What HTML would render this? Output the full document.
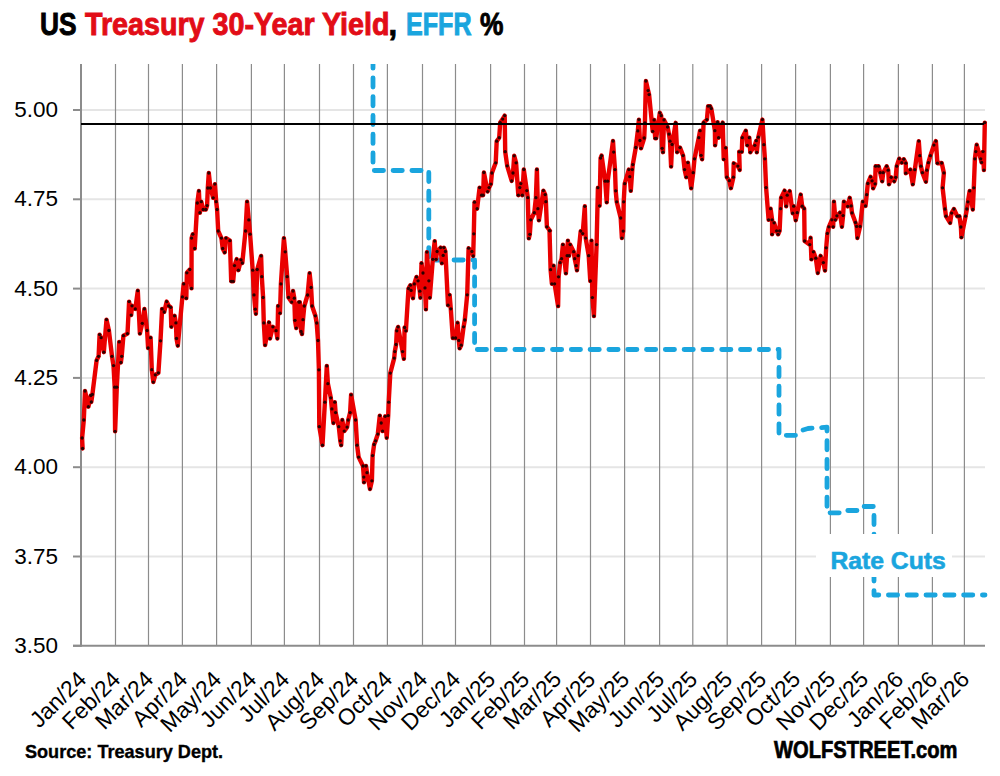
<!DOCTYPE html>
<html><head><meta charset="utf-8"><style>
html,body{margin:0;padding:0;background:#fff;}
body{width:1000px;height:776px;position:relative;overflow:hidden;font-family:"Liberation Sans",sans-serif;}
svg{position:absolute;left:0;top:0;}
.t{position:absolute;white-space:nowrap;font-weight:bold;}
.tt{top:6.5px;font-size:31px;line-height:36px;transform-origin:0 50%;-webkit-text-stroke:0.9px currentColor;}
.yl{position:absolute;left:0;width:58px;text-align:right;font-size:22.5px;line-height:26px;color:#000;}
.xl{position:absolute;top:662px;width:200px;text-align:right;font-size:22.8px;line-height:26px;transform-origin:100% 50%;transform:rotate(-45deg);color:#000;}
</style></head><body>
<svg width="1000" height="776" viewBox="0 0 1000 776">
<g stroke="#e5e5e5" stroke-width="2">
<line x1="81" y1="110.0" x2="985" y2="110.0"/>
<line x1="81" y1="199.3" x2="985" y2="199.3"/>
<line x1="81" y1="288.6" x2="985" y2="288.6"/>
<line x1="81" y1="377.9" x2="985" y2="377.9"/>
<line x1="81" y1="467.2" x2="985" y2="467.2"/>
<line x1="81" y1="556.5" x2="985" y2="556.5"/>
</g>
<g stroke="#8c8c8c" stroke-width="1.2">
<line x1="115.5" y1="64" x2="115.5" y2="645.8"/>
<line x1="148.5" y1="64" x2="148.5" y2="645.8"/>
<line x1="182.4" y1="64" x2="182.4" y2="645.8"/>
<line x1="216.6" y1="64" x2="216.6" y2="645.8"/>
<line x1="251.4" y1="64" x2="251.4" y2="645.8"/>
<line x1="284.4" y1="64" x2="284.4" y2="645.8"/>
<line x1="319.5" y1="64" x2="319.5" y2="645.8"/>
<line x1="353.5" y1="64" x2="353.5" y2="645.8"/>
<line x1="387.4" y1="64" x2="387.4" y2="645.8"/>
<line x1="422.5" y1="64" x2="422.5" y2="645.8"/>
<line x1="455.5" y1="64" x2="455.5" y2="645.8"/>
<line x1="490.6" y1="64" x2="490.6" y2="645.8"/>
<line x1="524.5" y1="64" x2="524.5" y2="645.8"/>
<line x1="556.6" y1="64" x2="556.6" y2="645.8"/>
<line x1="590.5" y1="64" x2="590.5" y2="645.8"/>
<line x1="624.6" y1="64" x2="624.6" y2="645.8"/>
<line x1="659.6" y1="64" x2="659.6" y2="645.8"/>
<line x1="692.8" y1="64" x2="692.8" y2="645.8"/>
<line x1="727.2" y1="64" x2="727.2" y2="645.8"/>
<line x1="761.6" y1="64" x2="761.6" y2="645.8"/>
<line x1="795.6" y1="64" x2="795.6" y2="645.8"/>
<line x1="830.4" y1="64" x2="830.4" y2="645.8"/>
<line x1="863.6" y1="64" x2="863.6" y2="645.8"/>
<line x1="898.4" y1="64" x2="898.4" y2="645.8"/>
<line x1="932.4" y1="64" x2="932.4" y2="645.8"/>
<line x1="964.4" y1="64" x2="964.4" y2="645.8"/>
</g>
<g stroke="#8c8c8c" stroke-width="2">
<line x1="73" y1="110.0" x2="81" y2="110.0"/>
<line x1="73" y1="199.3" x2="81" y2="199.3"/>
<line x1="73" y1="288.6" x2="81" y2="288.6"/>
<line x1="73" y1="377.9" x2="81" y2="377.9"/>
<line x1="73" y1="467.2" x2="81" y2="467.2"/>
<line x1="73" y1="556.5" x2="81" y2="556.5"/>
<line x1="73" y1="645.8" x2="81" y2="645.8"/>
<line x1="81" y1="64" x2="81" y2="646.8"/>
<line x1="73" y1="645.8" x2="985" y2="645.8"/>
</g>
<defs><clipPath id="cp"><rect x="81" y="64" width="910" height="582"/></clipPath></defs>
<g id="effr" clip-path="url(#cp)" fill="none" stroke="#1aa5de" stroke-width="4.8" stroke-dasharray="9.2 9.6" stroke-dashoffset="5.0" stroke-linecap="round" stroke-linejoin="round">
<path d="M373,64 V170.5 H428.8 V260 H474.6 V349.5 H779 V435.3 H797 L803,430 L808,428.5 L827,427.2 V512.8 H843 L845,510.5 H859 L861,506.5 H874 V595 H985"/>
</g>
<g id="red"><path d="M82.6,448.5 L82.1,438.0 L83.8,420.0 L85.0,391.0 L88.4,406.7 L90.8,395.5 L91.3,402.0 L92.4,394.4 L96.6,360.4 L98.6,356.3 L99.6,334.6 L101.1,337.7 L103.8,352.2 L106.5,319.6 L108.9,330.5 L112.0,356.3 L113.5,365.6 L114.7,387.2 L115.1,431.3 L116.8,387.2 L119.2,341.9 L120.9,362.5 L121.7,356.3 L123.4,335.7 L127.5,333.6 L129.1,301.6 L131.2,315.1 L132.0,305.8 L135.3,308.9 L137.8,290.7 L139.9,333.6 L142.3,323.3 L144.4,308.9 L147.1,330.5 L148.1,348.0 L150.6,337.7 L151.8,369.7 L153.3,382.1 L155.3,374.8 L158.4,372.8 L160.5,340.8 L162.1,308.9 L164.2,312.0 L166.7,301.6 L168.7,305.8 L170.7,307.3 L171.3,326.8 L174.6,315.8 L175.9,322.9 L176.5,338.5 L177.8,345.7 L182.4,296.9 L183.7,283.9 L186.3,298.2 L186.9,272.8 L189.8,269.5 L191.5,288.4 L191.6,238.1 L192.8,234.2 L194.7,248.5 L197.3,203.0 L198.9,191.0 L199.9,212.7 L201.3,201.7 L203.2,209.5 L205.8,209.5 L207.1,205.6 L207.8,188.0 L208.8,173.0 L210.4,188.0 L213.2,197.8 L214.9,184.1 L216.2,201.7 L217.1,209.5 L218.2,231.0 L221.4,238.1 L222.7,248.5 L224.7,252.4 L226.0,238.1 L229.9,240.7 L231.2,281.3 L233.2,281.3 L234.5,265.6 L236.7,259.1 L238.4,270.2 L241.0,259.8 L242.3,263.0 L245.5,231.0 L247.1,201.7 L248.8,219.9 L250.1,234.2 L252.7,270.2 L254.0,294.9 L255.3,309.2 L255.9,313.8 L257.2,269.5 L261.1,255.9 L261.8,276.7 L263.1,297.5 L263.8,322.9 L265.1,345.1 L269.0,322.3 L270.0,338.5 L272.9,326.8 L276.1,330.7 L277.4,338.5 L278.1,306.0 L280.0,313.2 L280.9,283.9 L283.9,238.1 L285.2,251.8 L287.2,276.7 L288.5,297.5 L291.7,302.1 L293.0,291.0 L294.3,298.2 L295.0,320.3 L296.3,328.1 L298.9,302.1 L299.8,302.1 L301.1,331.4 L302.0,334.0 L303.0,319.7 L304.3,306.0 L307.6,295.0 L309.6,273.1 L311.1,287.5 L312.1,306.0 L315.4,315.8 L316.7,323.0 L318.0,340.5 L318.9,369.8 L319.3,426.7 L322.5,445.2 L324.9,402.2 L326.8,365.9 L327.9,383.7 L330.8,397.8 L331.9,408.9 L333.4,423.0 L334.8,402.2 L335.6,412.6 L338.8,426.7 L340.3,440.8 L341.2,445.2 L342.3,420.0 L344.2,431.1 L347.1,427.1 L348.2,420.0 L350.1,412.6 L351.1,394.8 L355.6,420.0 L357.1,445.2 L358.6,457.1 L363.0,466.0 L363.8,477.1 L364.0,482.3 L366.0,466.0 L367.0,472.7 L370.0,489.0 L371.9,480.8 L372.6,455.6 L374.1,444.5 L375.6,440.8 L377.8,434.1 L379.8,415.6 L381.2,423.0 L382.6,431.1 L385.2,416.3 L386.7,437.8 L388.2,415.6 L388.7,402.2 L390.3,373.1 L394.2,358.1 L394.8,351.6 L396.1,344.5 L396.8,330.8 L398.1,326.9 L402.6,351.6 L403.9,358.8 L404.6,327.5 L405.9,330.8 L408.5,288.5 L410.4,285.2 L411.1,290.4 L413.0,298.2 L414.3,283.9 L416.5,276.9 L418.1,280.8 L419.8,291.2 L420.4,297.7 L421.5,263.2 L423.0,273.0 L425.0,287.9 L425.9,309.4 L426.9,252.1 L428.9,280.8 L429.8,297.7 L432.8,259.3 L434.7,241.1 L436.0,259.3 L437.1,251.5 L440.6,247.6 L441.9,263.2 L443.2,255.4 L443.9,247.6 L445.4,251.5 L448.0,305.2 L449.6,294.8 L450.8,308.8 L452.8,338.0 L455.6,338.0 L457.6,322.8 L458.8,340.4 L459.6,348.4 L461.2,345.2 L463.6,326.8 L464.8,320.0 L467.2,294.8 L468.6,248.2 L471.9,251.5 L473.2,256.0 L473.8,233.8 L474.5,202.2 L477.1,208.7 L479.6,187.6 L481.6,195.2 L483.1,195.2 L483.9,172.5 L487.6,191.6 L489.1,187.6 L490.9,184.1 L491.9,173.0 L495.7,162.8 L496.7,141.2 L499.2,137.7 L500.2,122.6 L502.7,119.1 L504.7,115.6 L505.2,151.7 L507.2,165.8 L511.7,181.0 L513.0,173.0 L514.2,155.8 L516.1,162.8 L518.3,195.2 L519.8,187.6 L520.8,183.6 L522.3,195.2 L523.8,169.5 L526.8,190.6 L527.8,197.7 L528.8,238.4 L529.8,234.3 L530.8,219.8 L534.3,212.7 L535.9,197.7 L536.9,169.5 L537.9,208.7 L538.9,220.3 L543.4,190.6 L545.2,194.6 L545.9,201.7 L546.9,226.8 L549.9,230.8 L549.5,230.6 L550.6,269.7 L551.9,283.8 L553.6,265.7 L554.6,283.8 L558.1,306.1 L558.6,276.8 L560.1,262.7 L561.6,258.7 L562.9,244.6 L565.9,273.3 L567.1,255.7 L567.9,240.6 L569.1,255.7 L570.2,244.6 L573.7,251.7 L574.7,258.7 L576.2,265.7 L577.0,270.3 L578.2,255.7 L580.7,231.1 L582.7,233.6 L584.8,206.3 L585.7,238.1 L588.7,255.7 L590.3,281.0 L591.5,240.6 L592.4,297.6 L593.9,316.1 L596.6,244.6 L597.9,187.7 L599.6,205.8 L600.6,158.1 L601.6,155.6 L605.2,181.2 L606.7,202.3 L607.7,181.2 L613.0,141.0 L613.7,152.1 L615.0,169.6 L615.7,190.8 L616.7,201.8 L620.7,218.0 L621.9,238.1 L623.2,231.1 L623.7,201.8 L624.7,183.7 L628.8,169.6 L629.8,176.7 L630.8,190.8 L632.3,169.6 L632.8,164.6 L635.8,147.5 L637.8,130.9 L638.9,119.6 L639.9,140.5 L641.0,148.3 L644.2,138.0 L644.9,122.8 L645.9,81.0 L648.1,90.6 L649.1,94.6 L652.7,131.3 L654.1,119.9 L655.2,138.3 L656.2,138.3 L659.8,112.8 L661.2,115.7 L662.2,148.3 L663.0,152.2 L664.0,119.9 L667.6,127.0 L669.0,134.1 L670.0,141.2 L671.1,166.6 L672.1,144.5 L675.7,122.8 L677.1,152.2 L680.0,147.6 L683.1,155.6 L684.6,169.6 L686.3,177.2 L687.9,162.6 L691.2,188.2 L693.2,172.7 L694.5,158.8 L698.8,137.7 L700.1,130.7 L701.1,155.3 L702.1,159.3 L703.6,122.6 L706.9,119.6 L708.1,106.1 L710.1,106.1 L711.3,108.6 L714.9,130.7 L715.1,145.3 L717.6,122.1 L718.6,137.7 L722.7,122.6 L723.7,159.3 L725.7,147.8 L726.8,177.2 L729.3,180.7 L730.9,188.2 L733.4,177.2 L733.7,163.3 L737.9,166.1 L739.7,169.9 L739.2,151.8 L741.8,151.8 L742.3,137.7 L745.8,130.7 L747.3,145.3 L749.3,137.7 L750.3,152.3 L754.8,145.3 L756.3,140.7 L756.8,152.3 L758.3,137.2 L762.4,119.6 L763.9,144.7 L764.9,158.8 L766.1,187.6 L768.6,219.8 L770.6,208.7 L772.1,219.8 L772.1,234.3 L774.1,222.8 L776.6,230.8 L778.1,234.3 L779.6,230.8 L780.6,208.7 L781.1,197.7 L784.6,190.6 L786.2,206.2 L787.2,195.2 L789.7,191.1 L792.7,213.2 L793.7,206.2 L795.7,220.3 L797.2,212.7 L800.7,194.6 L802.2,206.2 L804.2,208.7 L804.6,241.0 L809.8,244.6 L810.6,237.8 L811.4,259.4 L813.4,251.8 L815.8,258.2 L817.8,273.0 L820.6,255.8 L823.4,262.6 L825.0,270.6 L826.2,247.8 L827.4,233.4 L828.9,226.8 L831.9,219.8 L833.2,226.8 L833.9,201.7 L835.4,219.8 L836.9,215.8 L839.9,212.7 L841.9,226.8 L843.1,215.6 L843.9,201.7 L847.7,206.3 L849.7,197.8 L851.2,205.9 L852.0,212.9 L855.5,222.5 L856.6,226.4 L857.4,238.0 L860.1,226.4 L862.8,201.7 L865.5,205.9 L866.7,194.7 L867.8,183.5 L870.6,176.8 L872.1,180.8 L873.1,188.3 L875.1,183.8 L875.6,166.2 L878.6,166.2 L880.2,172.7 L882.2,181.3 L883.2,172.7 L886.7,166.2 L888.2,170.2 L889.0,184.3 L891.2,177.3 L894.2,181.3 L895.7,177.3 L896.7,166.2 L899.2,158.7 L901.8,162.7 L903.8,159.2 L905.8,163.2 L905.8,173.2 L910.3,169.7 L912.8,184.3 L914.8,169.7 L918.8,141.1 L919.8,155.7 L920.9,166.2 L922.4,172.7 L925.9,181.8 L926.9,170.2 L928.4,162.7 L930.4,155.7 L933.9,145.1 L935.9,141.1 L937.4,163.2 L941.7,163.0 L943.9,172.9 L942.6,187.8 L945.0,209.0 L946.0,216.2 L950.1,222.9 L951.6,213.1 L953.9,209.0 L957.3,216.2 L959.4,216.2 L960.9,227.0 L961.4,237.3 L965.6,216.2 L966.9,209.0 L967.9,201.8 L969.7,190.9 L972.8,209.5 L973.8,187.8 L974.9,158.8 L975.8,151.6 L976.7,144.8 L980.7,158.8 L981.6,162.4 L983.0,151.6 L983.9,170.1 L984.8,122.6" fill="none" stroke="#ea0000" stroke-width="4.4" stroke-linejoin="round" stroke-linecap="round"/><g fill="#2a0000"><circle cx="82.6" cy="448.5" r="1.65"/><circle cx="82.1" cy="438.0" r="1.65"/><circle cx="83.8" cy="420.0" r="1.65"/><circle cx="85.0" cy="391.0" r="1.65"/><circle cx="88.4" cy="406.7" r="1.65"/><circle cx="90.8" cy="395.5" r="1.65"/><circle cx="91.3" cy="402.0" r="1.65"/><circle cx="92.4" cy="394.4" r="1.65"/><circle cx="96.6" cy="360.4" r="1.65"/><circle cx="98.6" cy="356.3" r="1.65"/><circle cx="99.6" cy="334.6" r="1.65"/><circle cx="101.1" cy="337.7" r="1.65"/><circle cx="103.8" cy="352.2" r="1.65"/><circle cx="106.5" cy="319.6" r="1.65"/><circle cx="108.9" cy="330.5" r="1.65"/><circle cx="112.0" cy="356.3" r="1.65"/><circle cx="113.5" cy="365.6" r="1.65"/><circle cx="114.7" cy="387.2" r="1.65"/><circle cx="115.1" cy="431.3" r="1.65"/><circle cx="116.8" cy="387.2" r="1.65"/><circle cx="119.2" cy="341.9" r="1.65"/><circle cx="120.9" cy="362.5" r="1.65"/><circle cx="121.7" cy="356.3" r="1.65"/><circle cx="123.4" cy="335.7" r="1.65"/><circle cx="127.5" cy="333.6" r="1.65"/><circle cx="129.1" cy="301.6" r="1.65"/><circle cx="131.2" cy="315.1" r="1.65"/><circle cx="132.0" cy="305.8" r="1.65"/><circle cx="135.3" cy="308.9" r="1.65"/><circle cx="137.8" cy="290.7" r="1.65"/><circle cx="139.9" cy="333.6" r="1.65"/><circle cx="142.3" cy="323.3" r="1.65"/><circle cx="144.4" cy="308.9" r="1.65"/><circle cx="147.1" cy="330.5" r="1.65"/><circle cx="148.1" cy="348.0" r="1.65"/><circle cx="150.6" cy="337.7" r="1.65"/><circle cx="151.8" cy="369.7" r="1.65"/><circle cx="153.3" cy="382.1" r="1.65"/><circle cx="155.3" cy="374.8" r="1.65"/><circle cx="158.4" cy="372.8" r="1.65"/><circle cx="160.5" cy="340.8" r="1.65"/><circle cx="162.1" cy="308.9" r="1.65"/><circle cx="164.2" cy="312.0" r="1.65"/><circle cx="166.7" cy="301.6" r="1.65"/><circle cx="168.7" cy="305.8" r="1.65"/><circle cx="170.7" cy="307.3" r="1.65"/><circle cx="171.3" cy="326.8" r="1.65"/><circle cx="174.6" cy="315.8" r="1.65"/><circle cx="175.9" cy="322.9" r="1.65"/><circle cx="176.5" cy="338.5" r="1.65"/><circle cx="177.8" cy="345.7" r="1.65"/><circle cx="182.4" cy="296.9" r="1.65"/><circle cx="183.7" cy="283.9" r="1.65"/><circle cx="186.3" cy="298.2" r="1.65"/><circle cx="186.9" cy="272.8" r="1.65"/><circle cx="189.8" cy="269.5" r="1.65"/><circle cx="191.5" cy="288.4" r="1.65"/><circle cx="191.6" cy="238.1" r="1.65"/><circle cx="192.8" cy="234.2" r="1.65"/><circle cx="194.7" cy="248.5" r="1.65"/><circle cx="197.3" cy="203.0" r="1.65"/><circle cx="198.9" cy="191.0" r="1.65"/><circle cx="199.9" cy="212.7" r="1.65"/><circle cx="201.3" cy="201.7" r="1.65"/><circle cx="203.2" cy="209.5" r="1.65"/><circle cx="205.8" cy="209.5" r="1.65"/><circle cx="207.1" cy="205.6" r="1.65"/><circle cx="207.8" cy="188.0" r="1.65"/><circle cx="208.8" cy="173.0" r="1.65"/><circle cx="210.4" cy="188.0" r="1.65"/><circle cx="213.2" cy="197.8" r="1.65"/><circle cx="214.9" cy="184.1" r="1.65"/><circle cx="216.2" cy="201.7" r="1.65"/><circle cx="217.1" cy="209.5" r="1.65"/><circle cx="218.2" cy="231.0" r="1.65"/><circle cx="221.4" cy="238.1" r="1.65"/><circle cx="222.7" cy="248.5" r="1.65"/><circle cx="224.7" cy="252.4" r="1.65"/><circle cx="226.0" cy="238.1" r="1.65"/><circle cx="229.9" cy="240.7" r="1.65"/><circle cx="231.2" cy="281.3" r="1.65"/><circle cx="233.2" cy="281.3" r="1.65"/><circle cx="234.5" cy="265.6" r="1.65"/><circle cx="236.7" cy="259.1" r="1.65"/><circle cx="238.4" cy="270.2" r="1.65"/><circle cx="241.0" cy="259.8" r="1.65"/><circle cx="242.3" cy="263.0" r="1.65"/><circle cx="245.5" cy="231.0" r="1.65"/><circle cx="247.1" cy="201.7" r="1.65"/><circle cx="248.8" cy="219.9" r="1.65"/><circle cx="250.1" cy="234.2" r="1.65"/><circle cx="252.7" cy="270.2" r="1.65"/><circle cx="254.0" cy="294.9" r="1.65"/><circle cx="255.3" cy="309.2" r="1.65"/><circle cx="255.9" cy="313.8" r="1.65"/><circle cx="257.2" cy="269.5" r="1.65"/><circle cx="261.1" cy="255.9" r="1.65"/><circle cx="261.8" cy="276.7" r="1.65"/><circle cx="263.1" cy="297.5" r="1.65"/><circle cx="263.8" cy="322.9" r="1.65"/><circle cx="265.1" cy="345.1" r="1.65"/><circle cx="269.0" cy="322.3" r="1.65"/><circle cx="270.0" cy="338.5" r="1.65"/><circle cx="272.9" cy="326.8" r="1.65"/><circle cx="276.1" cy="330.7" r="1.65"/><circle cx="277.4" cy="338.5" r="1.65"/><circle cx="278.1" cy="306.0" r="1.65"/><circle cx="280.0" cy="313.2" r="1.65"/><circle cx="280.9" cy="283.9" r="1.65"/><circle cx="283.9" cy="238.1" r="1.65"/><circle cx="285.2" cy="251.8" r="1.65"/><circle cx="287.2" cy="276.7" r="1.65"/><circle cx="288.5" cy="297.5" r="1.65"/><circle cx="291.7" cy="302.1" r="1.65"/><circle cx="293.0" cy="291.0" r="1.65"/><circle cx="294.3" cy="298.2" r="1.65"/><circle cx="295.0" cy="320.3" r="1.65"/><circle cx="296.3" cy="328.1" r="1.65"/><circle cx="298.9" cy="302.1" r="1.65"/><circle cx="299.8" cy="302.1" r="1.65"/><circle cx="301.1" cy="331.4" r="1.65"/><circle cx="302.0" cy="334.0" r="1.65"/><circle cx="303.0" cy="319.7" r="1.65"/><circle cx="304.3" cy="306.0" r="1.65"/><circle cx="307.6" cy="295.0" r="1.65"/><circle cx="309.6" cy="273.1" r="1.65"/><circle cx="311.1" cy="287.5" r="1.65"/><circle cx="312.1" cy="306.0" r="1.65"/><circle cx="315.4" cy="315.8" r="1.65"/><circle cx="316.7" cy="323.0" r="1.65"/><circle cx="318.0" cy="340.5" r="1.65"/><circle cx="318.9" cy="369.8" r="1.65"/><circle cx="319.3" cy="426.7" r="1.65"/><circle cx="322.5" cy="445.2" r="1.65"/><circle cx="324.9" cy="402.2" r="1.65"/><circle cx="326.8" cy="365.9" r="1.65"/><circle cx="327.9" cy="383.7" r="1.65"/><circle cx="330.8" cy="397.8" r="1.65"/><circle cx="331.9" cy="408.9" r="1.65"/><circle cx="333.4" cy="423.0" r="1.65"/><circle cx="334.8" cy="402.2" r="1.65"/><circle cx="335.6" cy="412.6" r="1.65"/><circle cx="338.8" cy="426.7" r="1.65"/><circle cx="340.3" cy="440.8" r="1.65"/><circle cx="341.2" cy="445.2" r="1.65"/><circle cx="342.3" cy="420.0" r="1.65"/><circle cx="344.2" cy="431.1" r="1.65"/><circle cx="347.1" cy="427.1" r="1.65"/><circle cx="348.2" cy="420.0" r="1.65"/><circle cx="350.1" cy="412.6" r="1.65"/><circle cx="351.1" cy="394.8" r="1.65"/><circle cx="355.6" cy="420.0" r="1.65"/><circle cx="357.1" cy="445.2" r="1.65"/><circle cx="358.6" cy="457.1" r="1.65"/><circle cx="363.0" cy="466.0" r="1.65"/><circle cx="363.8" cy="477.1" r="1.65"/><circle cx="364.0" cy="482.3" r="1.65"/><circle cx="366.0" cy="466.0" r="1.65"/><circle cx="367.0" cy="472.7" r="1.65"/><circle cx="370.0" cy="489.0" r="1.65"/><circle cx="371.9" cy="480.8" r="1.65"/><circle cx="372.6" cy="455.6" r="1.65"/><circle cx="374.1" cy="444.5" r="1.65"/><circle cx="375.6" cy="440.8" r="1.65"/><circle cx="377.8" cy="434.1" r="1.65"/><circle cx="379.8" cy="415.6" r="1.65"/><circle cx="381.2" cy="423.0" r="1.65"/><circle cx="382.6" cy="431.1" r="1.65"/><circle cx="385.2" cy="416.3" r="1.65"/><circle cx="386.7" cy="437.8" r="1.65"/><circle cx="388.2" cy="415.6" r="1.65"/><circle cx="388.7" cy="402.2" r="1.65"/><circle cx="390.3" cy="373.1" r="1.65"/><circle cx="394.2" cy="358.1" r="1.65"/><circle cx="394.8" cy="351.6" r="1.65"/><circle cx="396.1" cy="344.5" r="1.65"/><circle cx="396.8" cy="330.8" r="1.65"/><circle cx="398.1" cy="326.9" r="1.65"/><circle cx="402.6" cy="351.6" r="1.65"/><circle cx="403.9" cy="358.8" r="1.65"/><circle cx="404.6" cy="327.5" r="1.65"/><circle cx="405.9" cy="330.8" r="1.65"/><circle cx="408.5" cy="288.5" r="1.65"/><circle cx="410.4" cy="285.2" r="1.65"/><circle cx="411.1" cy="290.4" r="1.65"/><circle cx="413.0" cy="298.2" r="1.65"/><circle cx="414.3" cy="283.9" r="1.65"/><circle cx="416.5" cy="276.9" r="1.65"/><circle cx="418.1" cy="280.8" r="1.65"/><circle cx="419.8" cy="291.2" r="1.65"/><circle cx="420.4" cy="297.7" r="1.65"/><circle cx="421.5" cy="263.2" r="1.65"/><circle cx="423.0" cy="273.0" r="1.65"/><circle cx="425.0" cy="287.9" r="1.65"/><circle cx="425.9" cy="309.4" r="1.65"/><circle cx="426.9" cy="252.1" r="1.65"/><circle cx="428.9" cy="280.8" r="1.65"/><circle cx="429.8" cy="297.7" r="1.65"/><circle cx="432.8" cy="259.3" r="1.65"/><circle cx="434.7" cy="241.1" r="1.65"/><circle cx="436.0" cy="259.3" r="1.65"/><circle cx="437.1" cy="251.5" r="1.65"/><circle cx="440.6" cy="247.6" r="1.65"/><circle cx="441.9" cy="263.2" r="1.65"/><circle cx="443.2" cy="255.4" r="1.65"/><circle cx="443.9" cy="247.6" r="1.65"/><circle cx="445.4" cy="251.5" r="1.65"/><circle cx="448.0" cy="305.2" r="1.65"/><circle cx="449.6" cy="294.8" r="1.65"/><circle cx="450.8" cy="308.8" r="1.65"/><circle cx="452.8" cy="338.0" r="1.65"/><circle cx="455.6" cy="338.0" r="1.65"/><circle cx="457.6" cy="322.8" r="1.65"/><circle cx="458.8" cy="340.4" r="1.65"/><circle cx="459.6" cy="348.4" r="1.65"/><circle cx="461.2" cy="345.2" r="1.65"/><circle cx="463.6" cy="326.8" r="1.65"/><circle cx="464.8" cy="320.0" r="1.65"/><circle cx="467.2" cy="294.8" r="1.65"/><circle cx="468.6" cy="248.2" r="1.65"/><circle cx="471.9" cy="251.5" r="1.65"/><circle cx="473.2" cy="256.0" r="1.65"/><circle cx="473.8" cy="233.8" r="1.65"/><circle cx="474.5" cy="202.2" r="1.65"/><circle cx="477.1" cy="208.7" r="1.65"/><circle cx="479.6" cy="187.6" r="1.65"/><circle cx="481.6" cy="195.2" r="1.65"/><circle cx="483.1" cy="195.2" r="1.65"/><circle cx="483.9" cy="172.5" r="1.65"/><circle cx="487.6" cy="191.6" r="1.65"/><circle cx="489.1" cy="187.6" r="1.65"/><circle cx="490.9" cy="184.1" r="1.65"/><circle cx="491.9" cy="173.0" r="1.65"/><circle cx="495.7" cy="162.8" r="1.65"/><circle cx="496.7" cy="141.2" r="1.65"/><circle cx="499.2" cy="137.7" r="1.65"/><circle cx="500.2" cy="122.6" r="1.65"/><circle cx="502.7" cy="119.1" r="1.65"/><circle cx="504.7" cy="115.6" r="1.65"/><circle cx="505.2" cy="151.7" r="1.65"/><circle cx="507.2" cy="165.8" r="1.65"/><circle cx="511.7" cy="181.0" r="1.65"/><circle cx="513.0" cy="173.0" r="1.65"/><circle cx="514.2" cy="155.8" r="1.65"/><circle cx="516.1" cy="162.8" r="1.65"/><circle cx="518.3" cy="195.2" r="1.65"/><circle cx="519.8" cy="187.6" r="1.65"/><circle cx="520.8" cy="183.6" r="1.65"/><circle cx="522.3" cy="195.2" r="1.65"/><circle cx="523.8" cy="169.5" r="1.65"/><circle cx="526.8" cy="190.6" r="1.65"/><circle cx="527.8" cy="197.7" r="1.65"/><circle cx="528.8" cy="238.4" r="1.65"/><circle cx="529.8" cy="234.3" r="1.65"/><circle cx="530.8" cy="219.8" r="1.65"/><circle cx="534.3" cy="212.7" r="1.65"/><circle cx="535.9" cy="197.7" r="1.65"/><circle cx="536.9" cy="169.5" r="1.65"/><circle cx="537.9" cy="208.7" r="1.65"/><circle cx="538.9" cy="220.3" r="1.65"/><circle cx="543.4" cy="190.6" r="1.65"/><circle cx="545.2" cy="194.6" r="1.65"/><circle cx="545.9" cy="201.7" r="1.65"/><circle cx="546.9" cy="226.8" r="1.65"/><circle cx="549.9" cy="230.8" r="1.65"/><circle cx="549.5" cy="230.6" r="1.65"/><circle cx="550.6" cy="269.7" r="1.65"/><circle cx="551.9" cy="283.8" r="1.65"/><circle cx="553.6" cy="265.7" r="1.65"/><circle cx="554.6" cy="283.8" r="1.65"/><circle cx="558.1" cy="306.1" r="1.65"/><circle cx="558.6" cy="276.8" r="1.65"/><circle cx="560.1" cy="262.7" r="1.65"/><circle cx="561.6" cy="258.7" r="1.65"/><circle cx="562.9" cy="244.6" r="1.65"/><circle cx="565.9" cy="273.3" r="1.65"/><circle cx="567.1" cy="255.7" r="1.65"/><circle cx="567.9" cy="240.6" r="1.65"/><circle cx="569.1" cy="255.7" r="1.65"/><circle cx="570.2" cy="244.6" r="1.65"/><circle cx="573.7" cy="251.7" r="1.65"/><circle cx="574.7" cy="258.7" r="1.65"/><circle cx="576.2" cy="265.7" r="1.65"/><circle cx="577.0" cy="270.3" r="1.65"/><circle cx="578.2" cy="255.7" r="1.65"/><circle cx="580.7" cy="231.1" r="1.65"/><circle cx="582.7" cy="233.6" r="1.65"/><circle cx="584.8" cy="206.3" r="1.65"/><circle cx="585.7" cy="238.1" r="1.65"/><circle cx="588.7" cy="255.7" r="1.65"/><circle cx="590.3" cy="281.0" r="1.65"/><circle cx="591.5" cy="240.6" r="1.65"/><circle cx="592.4" cy="297.6" r="1.65"/><circle cx="593.9" cy="316.1" r="1.65"/><circle cx="596.6" cy="244.6" r="1.65"/><circle cx="597.9" cy="187.7" r="1.65"/><circle cx="599.6" cy="205.8" r="1.65"/><circle cx="600.6" cy="158.1" r="1.65"/><circle cx="601.6" cy="155.6" r="1.65"/><circle cx="605.2" cy="181.2" r="1.65"/><circle cx="606.7" cy="202.3" r="1.65"/><circle cx="607.7" cy="181.2" r="1.65"/><circle cx="613.0" cy="141.0" r="1.65"/><circle cx="613.7" cy="152.1" r="1.65"/><circle cx="615.0" cy="169.6" r="1.65"/><circle cx="615.7" cy="190.8" r="1.65"/><circle cx="616.7" cy="201.8" r="1.65"/><circle cx="620.7" cy="218.0" r="1.65"/><circle cx="621.9" cy="238.1" r="1.65"/><circle cx="623.2" cy="231.1" r="1.65"/><circle cx="623.7" cy="201.8" r="1.65"/><circle cx="624.7" cy="183.7" r="1.65"/><circle cx="628.8" cy="169.6" r="1.65"/><circle cx="629.8" cy="176.7" r="1.65"/><circle cx="630.8" cy="190.8" r="1.65"/><circle cx="632.3" cy="169.6" r="1.65"/><circle cx="632.8" cy="164.6" r="1.65"/><circle cx="635.8" cy="147.5" r="1.65"/><circle cx="637.8" cy="130.9" r="1.65"/><circle cx="638.9" cy="119.6" r="1.65"/><circle cx="639.9" cy="140.5" r="1.65"/><circle cx="641.0" cy="148.3" r="1.65"/><circle cx="644.2" cy="138.0" r="1.65"/><circle cx="644.9" cy="122.8" r="1.65"/><circle cx="645.9" cy="81.0" r="1.65"/><circle cx="648.1" cy="90.6" r="1.65"/><circle cx="649.1" cy="94.6" r="1.65"/><circle cx="652.7" cy="131.3" r="1.65"/><circle cx="654.1" cy="119.9" r="1.65"/><circle cx="655.2" cy="138.3" r="1.65"/><circle cx="656.2" cy="138.3" r="1.65"/><circle cx="659.8" cy="112.8" r="1.65"/><circle cx="661.2" cy="115.7" r="1.65"/><circle cx="662.2" cy="148.3" r="1.65"/><circle cx="663.0" cy="152.2" r="1.65"/><circle cx="664.0" cy="119.9" r="1.65"/><circle cx="667.6" cy="127.0" r="1.65"/><circle cx="669.0" cy="134.1" r="1.65"/><circle cx="670.0" cy="141.2" r="1.65"/><circle cx="671.1" cy="166.6" r="1.65"/><circle cx="672.1" cy="144.5" r="1.65"/><circle cx="675.7" cy="122.8" r="1.65"/><circle cx="677.1" cy="152.2" r="1.65"/><circle cx="680.0" cy="147.6" r="1.65"/><circle cx="683.1" cy="155.6" r="1.65"/><circle cx="684.6" cy="169.6" r="1.65"/><circle cx="686.3" cy="177.2" r="1.65"/><circle cx="687.9" cy="162.6" r="1.65"/><circle cx="691.2" cy="188.2" r="1.65"/><circle cx="693.2" cy="172.7" r="1.65"/><circle cx="694.5" cy="158.8" r="1.65"/><circle cx="698.8" cy="137.7" r="1.65"/><circle cx="700.1" cy="130.7" r="1.65"/><circle cx="701.1" cy="155.3" r="1.65"/><circle cx="702.1" cy="159.3" r="1.65"/><circle cx="703.6" cy="122.6" r="1.65"/><circle cx="706.9" cy="119.6" r="1.65"/><circle cx="708.1" cy="106.1" r="1.65"/><circle cx="710.1" cy="106.1" r="1.65"/><circle cx="711.3" cy="108.6" r="1.65"/><circle cx="714.9" cy="130.7" r="1.65"/><circle cx="715.1" cy="145.3" r="1.65"/><circle cx="717.6" cy="122.1" r="1.65"/><circle cx="718.6" cy="137.7" r="1.65"/><circle cx="722.7" cy="122.6" r="1.65"/><circle cx="723.7" cy="159.3" r="1.65"/><circle cx="725.7" cy="147.8" r="1.65"/><circle cx="726.8" cy="177.2" r="1.65"/><circle cx="729.3" cy="180.7" r="1.65"/><circle cx="730.9" cy="188.2" r="1.65"/><circle cx="733.4" cy="177.2" r="1.65"/><circle cx="733.7" cy="163.3" r="1.65"/><circle cx="737.9" cy="166.1" r="1.65"/><circle cx="739.7" cy="169.9" r="1.65"/><circle cx="739.2" cy="151.8" r="1.65"/><circle cx="741.8" cy="151.8" r="1.65"/><circle cx="742.3" cy="137.7" r="1.65"/><circle cx="745.8" cy="130.7" r="1.65"/><circle cx="747.3" cy="145.3" r="1.65"/><circle cx="749.3" cy="137.7" r="1.65"/><circle cx="750.3" cy="152.3" r="1.65"/><circle cx="754.8" cy="145.3" r="1.65"/><circle cx="756.3" cy="140.7" r="1.65"/><circle cx="756.8" cy="152.3" r="1.65"/><circle cx="758.3" cy="137.2" r="1.65"/><circle cx="762.4" cy="119.6" r="1.65"/><circle cx="763.9" cy="144.7" r="1.65"/><circle cx="764.9" cy="158.8" r="1.65"/><circle cx="766.1" cy="187.6" r="1.65"/><circle cx="768.6" cy="219.8" r="1.65"/><circle cx="770.6" cy="208.7" r="1.65"/><circle cx="772.1" cy="219.8" r="1.65"/><circle cx="772.1" cy="234.3" r="1.65"/><circle cx="774.1" cy="222.8" r="1.65"/><circle cx="776.6" cy="230.8" r="1.65"/><circle cx="778.1" cy="234.3" r="1.65"/><circle cx="779.6" cy="230.8" r="1.65"/><circle cx="780.6" cy="208.7" r="1.65"/><circle cx="781.1" cy="197.7" r="1.65"/><circle cx="784.6" cy="190.6" r="1.65"/><circle cx="786.2" cy="206.2" r="1.65"/><circle cx="787.2" cy="195.2" r="1.65"/><circle cx="789.7" cy="191.1" r="1.65"/><circle cx="792.7" cy="213.2" r="1.65"/><circle cx="793.7" cy="206.2" r="1.65"/><circle cx="795.7" cy="220.3" r="1.65"/><circle cx="797.2" cy="212.7" r="1.65"/><circle cx="800.7" cy="194.6" r="1.65"/><circle cx="802.2" cy="206.2" r="1.65"/><circle cx="804.2" cy="208.7" r="1.65"/><circle cx="804.6" cy="241.0" r="1.65"/><circle cx="809.8" cy="244.6" r="1.65"/><circle cx="810.6" cy="237.8" r="1.65"/><circle cx="811.4" cy="259.4" r="1.65"/><circle cx="813.4" cy="251.8" r="1.65"/><circle cx="815.8" cy="258.2" r="1.65"/><circle cx="817.8" cy="273.0" r="1.65"/><circle cx="820.6" cy="255.8" r="1.65"/><circle cx="823.4" cy="262.6" r="1.65"/><circle cx="825.0" cy="270.6" r="1.65"/><circle cx="826.2" cy="247.8" r="1.65"/><circle cx="827.4" cy="233.4" r="1.65"/><circle cx="828.9" cy="226.8" r="1.65"/><circle cx="831.9" cy="219.8" r="1.65"/><circle cx="833.2" cy="226.8" r="1.65"/><circle cx="833.9" cy="201.7" r="1.65"/><circle cx="835.4" cy="219.8" r="1.65"/><circle cx="836.9" cy="215.8" r="1.65"/><circle cx="839.9" cy="212.7" r="1.65"/><circle cx="841.9" cy="226.8" r="1.65"/><circle cx="843.1" cy="215.6" r="1.65"/><circle cx="843.9" cy="201.7" r="1.65"/><circle cx="847.7" cy="206.3" r="1.65"/><circle cx="849.7" cy="197.8" r="1.65"/><circle cx="851.2" cy="205.9" r="1.65"/><circle cx="852.0" cy="212.9" r="1.65"/><circle cx="855.5" cy="222.5" r="1.65"/><circle cx="856.6" cy="226.4" r="1.65"/><circle cx="857.4" cy="238.0" r="1.65"/><circle cx="860.1" cy="226.4" r="1.65"/><circle cx="862.8" cy="201.7" r="1.65"/><circle cx="865.5" cy="205.9" r="1.65"/><circle cx="866.7" cy="194.7" r="1.65"/><circle cx="867.8" cy="183.5" r="1.65"/><circle cx="870.6" cy="176.8" r="1.65"/><circle cx="872.1" cy="180.8" r="1.65"/><circle cx="873.1" cy="188.3" r="1.65"/><circle cx="875.1" cy="183.8" r="1.65"/><circle cx="875.6" cy="166.2" r="1.65"/><circle cx="878.6" cy="166.2" r="1.65"/><circle cx="880.2" cy="172.7" r="1.65"/><circle cx="882.2" cy="181.3" r="1.65"/><circle cx="883.2" cy="172.7" r="1.65"/><circle cx="886.7" cy="166.2" r="1.65"/><circle cx="888.2" cy="170.2" r="1.65"/><circle cx="889.0" cy="184.3" r="1.65"/><circle cx="891.2" cy="177.3" r="1.65"/><circle cx="894.2" cy="181.3" r="1.65"/><circle cx="895.7" cy="177.3" r="1.65"/><circle cx="896.7" cy="166.2" r="1.65"/><circle cx="899.2" cy="158.7" r="1.65"/><circle cx="901.8" cy="162.7" r="1.65"/><circle cx="903.8" cy="159.2" r="1.65"/><circle cx="905.8" cy="163.2" r="1.65"/><circle cx="905.8" cy="173.2" r="1.65"/><circle cx="910.3" cy="169.7" r="1.65"/><circle cx="912.8" cy="184.3" r="1.65"/><circle cx="914.8" cy="169.7" r="1.65"/><circle cx="918.8" cy="141.1" r="1.65"/><circle cx="919.8" cy="155.7" r="1.65"/><circle cx="920.9" cy="166.2" r="1.65"/><circle cx="922.4" cy="172.7" r="1.65"/><circle cx="925.9" cy="181.8" r="1.65"/><circle cx="926.9" cy="170.2" r="1.65"/><circle cx="928.4" cy="162.7" r="1.65"/><circle cx="930.4" cy="155.7" r="1.65"/><circle cx="933.9" cy="145.1" r="1.65"/><circle cx="935.9" cy="141.1" r="1.65"/><circle cx="937.4" cy="163.2" r="1.65"/><circle cx="941.7" cy="163.0" r="1.65"/><circle cx="943.9" cy="172.9" r="1.65"/><circle cx="942.6" cy="187.8" r="1.65"/><circle cx="945.0" cy="209.0" r="1.65"/><circle cx="946.0" cy="216.2" r="1.65"/><circle cx="950.1" cy="222.9" r="1.65"/><circle cx="951.6" cy="213.1" r="1.65"/><circle cx="953.9" cy="209.0" r="1.65"/><circle cx="957.3" cy="216.2" r="1.65"/><circle cx="959.4" cy="216.2" r="1.65"/><circle cx="960.9" cy="227.0" r="1.65"/><circle cx="961.4" cy="237.3" r="1.65"/><circle cx="965.6" cy="216.2" r="1.65"/><circle cx="966.9" cy="209.0" r="1.65"/><circle cx="967.9" cy="201.8" r="1.65"/><circle cx="969.7" cy="190.9" r="1.65"/><circle cx="972.8" cy="209.5" r="1.65"/><circle cx="973.8" cy="187.8" r="1.65"/><circle cx="974.9" cy="158.8" r="1.65"/><circle cx="975.8" cy="151.6" r="1.65"/><circle cx="976.7" cy="144.8" r="1.65"/><circle cx="980.7" cy="158.8" r="1.65"/><circle cx="981.6" cy="162.4" r="1.65"/><circle cx="983.0" cy="151.6" r="1.65"/><circle cx="983.9" cy="170.1" r="1.65"/><circle cx="984.8" cy="122.6" r="1.65"/></g></g>
<line x1="81" y1="124" x2="984" y2="124" stroke="#000" stroke-width="2"/>
</svg>
<div class="t tt" style="left:40.4px;color:#000;transform:scaleX(0.85)">US</div>
<div class="t tt" style="left:85px;color:#e20d17;transform:scaleX(0.925)">Treasury 30-Year Yield</div>
<div class="t tt" style="left:388.5px;color:#000">,</div>
<div class="t tt" style="left:405.8px;color:#1aa5de;transform:scaleX(0.81)">EFFR</div>
<div class="t tt" style="left:479.5px;color:#000;transform:scaleX(0.85)">%</div>
<div class="yl" style="top:97.0px">5.00</div>
<div class="yl" style="top:186.3px">4.75</div>
<div class="yl" style="top:275.6px">4.50</div>
<div class="yl" style="top:364.9px">4.25</div>
<div class="yl" style="top:454.2px">4.00</div>
<div class="yl" style="top:543.5px">3.75</div>
<div class="yl" style="top:632.8px">3.50</div>
<div class="xl" style="left:-118.5px">Jan/24</div>
<div class="xl" style="left:-84.0px">Feb/24</div>
<div class="xl" style="left:-51.0px">Mar/24</div>
<div class="xl" style="left:-17.1px">Apr/24</div>
<div class="xl" style="left:17.1px">May/24</div>
<div class="xl" style="left:51.9px">Jun/24</div>
<div class="xl" style="left:84.9px">Jul/24</div>
<div class="xl" style="left:120.0px">Aug/24</div>
<div class="xl" style="left:154.0px">Sep/24</div>
<div class="xl" style="left:187.9px">Oct/24</div>
<div class="xl" style="left:223.0px">Nov/24</div>
<div class="xl" style="left:256.0px">Dec/24</div>
<div class="xl" style="left:291.1px">Jan/25</div>
<div class="xl" style="left:325.0px">Feb/25</div>
<div class="xl" style="left:357.1px">Mar/25</div>
<div class="xl" style="left:391.0px">Apr/25</div>
<div class="xl" style="left:425.1px">May/25</div>
<div class="xl" style="left:460.1px">Jun/25</div>
<div class="xl" style="left:493.3px">Jul/25</div>
<div class="xl" style="left:527.7px">Aug/25</div>
<div class="xl" style="left:562.1px">Sep/25</div>
<div class="xl" style="left:596.1px">Oct/25</div>
<div class="xl" style="left:630.9px">Nov/25</div>
<div class="xl" style="left:664.1px">Dec/25</div>
<div class="xl" style="left:698.9px">Jan/26</div>
<div class="xl" style="left:732.9px">Feb/26</div>
<div class="xl" style="left:764.9px">Mar/26</div>
<div style="position:absolute;left:816px;top:534px;width:136px;height:43px;background:#fff;"></div>
<div class="t" style="left:830.5px;top:547px;font-size:24.7px;line-height:28px;color:#1aa5de;-webkit-text-stroke:0.6px #1aa5de">Rate Cuts</div>
<div class="t" id="src" style="left:25px;top:740.5px;font-size:18.1px;-webkit-text-stroke:0.35px #000;line-height:22px;color:#000">Source: Treasury Dept.</div>
<div class="t" id="ws" style="left:774px;top:737px;font-size:23.7px;line-height:26px;transform-origin:0 50%;transform:scaleX(0.85);-webkit-text-stroke:0.7px #000;color:#000">WOLFSTREET.com</div>
</body></html>
